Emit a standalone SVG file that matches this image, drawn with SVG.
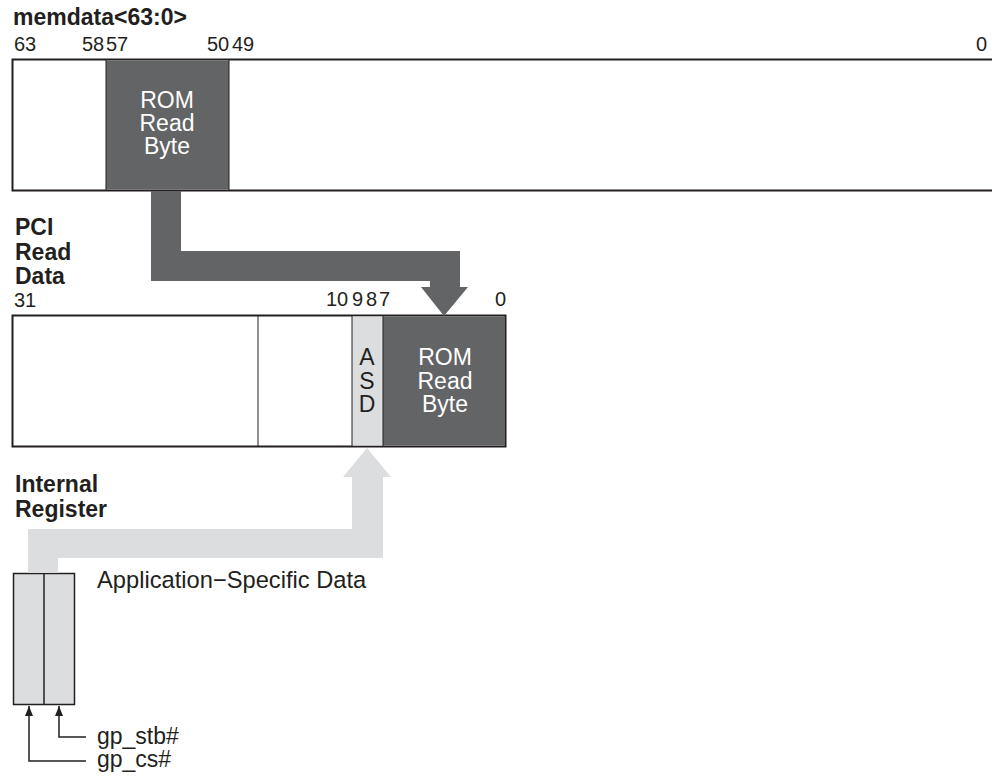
<svg xmlns="http://www.w3.org/2000/svg" width="992" height="777" viewBox="0 0 992 777">
<defs>
<style>
text{font-family:"Liberation Sans",Arial,sans-serif;fill:#231f20}
.b{font-weight:bold;font-size:23px}
.n{font-size:20px}
.r{font-size:23px}
.w{fill:#ffffff;font-size:23px}
.box{fill:#ffffff;stroke:#231f20;stroke-width:2}
.dk{fill:#636466}
.lt{fill:#dcddde}
.ln{stroke:#231f20;stroke-width:1.5;fill:none}
</style>
<marker id="ah" viewBox="0 0 10 10" refX="10" refY="5" markerWidth="10" markerHeight="10" markerUnits="userSpaceOnUse" orient="auto">
<path d="M0,1 L10,5 L0,9 Z" fill="#231f20"/>
</marker>
</defs>

<g id="memdata">
<text class="b" x="13" y="25">memdata&lt;63:0&gt;</text>
<text class="n" x="14" y="51">63</text>
<text class="n" x="82" y="51">58</text>
<text class="n" x="106" y="51">57</text>
<text class="n" x="207" y="51">50</text>
<text class="n" x="232" y="51">49</text>
<text class="n" x="976" y="51">0</text>
<rect class="box" x="12.5" y="59.5" width="990" height="131"/>
<rect class="dk" x="106" y="60.5" width="123" height="129"/>
<line x1="106" y1="60" x2="106" y2="190" stroke="#231f20" stroke-width="1"/>
<line x1="229" y1="60" x2="229" y2="190" stroke="#231f20" stroke-width="1"/>
<text class="w" x="167" y="108" text-anchor="middle">ROM</text>
<text class="w" x="167" y="131" text-anchor="middle">Read</text>
<text class="w" x="167" y="154" text-anchor="middle">Byte</text>
</g>

<g id="pci">
<text class="b" x="15" y="235">PCI</text>
<text class="b" x="15" y="260">Read</text>
<text class="b" x="15" y="284">Data</text>
<text class="n" x="14" y="307">31</text>
<text class="n" x="326" y="306">10</text>
<text class="n" x="352" y="306">9</text>
<text class="n" x="366" y="306">8</text>
<text class="n" x="379" y="306">7</text>
<text class="n" x="495" y="306">0</text>
<rect class="box" x="12.5" y="315.5" width="493" height="131"/>
<rect class="lt" x="352" y="316.5" width="31" height="129"/>
<rect class="dk" x="383" y="316.5" width="122" height="129"/>
<line x1="258" y1="316" x2="258" y2="446" stroke="#231f20" stroke-width="1"/>
<line x1="352" y1="316" x2="352" y2="446" stroke="#231f20" stroke-width="1"/>
<line x1="383" y1="316" x2="383" y2="446" stroke="#231f20" stroke-width="1"/>
<text class="r" x="367" y="365" text-anchor="middle">A</text>
<text class="r" x="367" y="389" text-anchor="middle">S</text>
<text class="r" x="367" y="412" text-anchor="middle">D</text>
<text class="w" x="445" y="365" text-anchor="middle">ROM</text>
<text class="w" x="445" y="389" text-anchor="middle">Read</text>
<text class="w" x="445" y="412" text-anchor="middle">Byte</text>
</g>

<g id="register">
<text class="b" x="15" y="492">Internal</text>
<text class="b" x="15" y="517">Register</text>
<rect x="13.5" y="573.5" width="61" height="131" fill="#dcddde" stroke="#231f20" stroke-width="1.5"/>
<line x1="44" y1="573" x2="44" y2="705" stroke="#231f20" stroke-width="1.5"/>
<text class="r" x="97" y="588" style="font-size:23.7px">Application−Specific Data</text>
<text class="r" x="97" y="744">gp_stb#</text>
<text class="r" x="97" y="767">gp_cs#</text>
</g>

<g id="connectors">
<polygon class="dk" points="151,191 181,191 181,251 460,251 460,287 468,287 444,316 421,287 430,287 430,281 151,281"/>
<polygon class="lt" points="367,448 391,477 383,477 383,558 58,558 58,573 28,573 28,529 352,529 352,477 343,477"/>
<polyline class="ln" points="86,737 59,737 59,706" marker-end="url(#ah)"/>
<polyline class="ln" points="86,761 29,761 29,706" marker-end="url(#ah)"/>
</g>
</svg>
